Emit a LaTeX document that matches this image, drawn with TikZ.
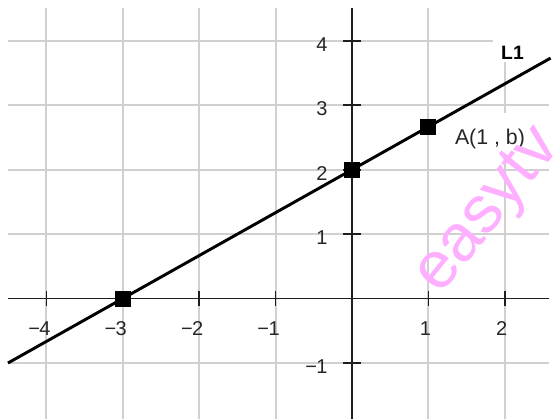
\documentclass[tikz,border=0pt]{standalone}
\usepackage{fontspec}
\setmainfont{Liberation Sans}
\definecolor{gridgray}{RGB}{208,208,208}
\definecolor{axisgray}{RGB}{30,30,30}
\definecolor{wmpink}{RGB}{255,175,255}
\tikzset{
  gridline/.style={gridgray, line width=1.4pt},
  axisline/.style={axisgray, line width=1.3pt},
  tickline/.style={axisgray, line width=1.3pt},
  linel/.style={black, line width=2.2pt},
  ptbox/.style={fill=black, draw=none, minimum size=12pt, inner sep=0pt},
  ticklab/.style={inner sep=0pt, font=\fontsize{15}{17}\selectfont, text=black!85},
  mask/.style={fill=white, draw=none}
}
\begin{document}
\begin{tikzpicture}[x=57.3pt,y=48.3pt]
\useasboundingbox (-4.6073,-1.8711) rectangle (2.6309,4.6351);
% grid
\foreach \i in {-4,...,2} \draw[gridline] (\i,-1.8711) -- (\i,4.511);
\foreach \j in {-1,...,4} \draw[gridline] (-4.503,\j) -- (2.579,\j);
% white label backgrounds
\fill[mask] (1.152,2.182) rectangle (2.461,2.880);
\fill[mask] (1.846,3.672) rectangle (2.64,4.52);
% axes
\coordinate (xa) at (-4.503,0);
\coordinate (xb) at (2.579,0);
\coordinate (ya) at (0,-1.8711);
\coordinate (yb) at (0,4.511);
\draw[axisline] (xa) -- (xb);
\draw[axisline] (ya) -- (yb);
\foreach \i in {-4,-3,-2,-1,1,2} \draw[tickline] (\i,-0.124) -- (\i,0.124);
\foreach \j in {-1,1,2,3,4} \draw[tickline] (-0.118,\j) -- (0.118,\j);
% axis labels
\foreach \i/\t in {-4/4,-3/3,-2/2,-1/1} \node[ticklab] (xl\t) at (\i-0.02,-0.4736) {\llap{−\kern-0.5pt}\t};
\foreach \i in {1,2} \node[ticklab] (xlp\i) at (\i-0.04,-0.4736) {\i};
\foreach \j in {1,2,3,4} \node[ticklab] (yl\j) at (-0.393,\j-0.054) {\j};
\node[ticklab] (ylm1) at (-0.393,-1.054) {\llap{−\kern-0.5pt}1};
% line L1
\coordinate (Ls) at (-4.503,{2/3*(-4.503)+2});
\coordinate (Le) at (2.6,{2/3*2.6+2});
\draw[linel] (Ls) -- (Le);
\node[ptbox] (P1) at (-3,0) {};
\node[ptbox] (P2) at (0,2) {};
\node[ptbox] (P3) at (1,{8/3}) {};
% labels
\node[inner sep=0pt, font=\fontsize{16}{18}\selectfont, text=black!85] (Alab) at (1.806,2.477) {A(1 , b)};
\node[inner sep=0pt, font=\bfseries\fontsize{14.5}{16}\selectfont] (L1lab) at (2.101,3.812) {L1};
% watermark
\node[rotate=51, text=wmpink, inner sep=0pt, font=\fontsize{50}{54}\selectfont] (wm) at (1.800,1.346) {easytv};
\end{tikzpicture}
\end{document}
